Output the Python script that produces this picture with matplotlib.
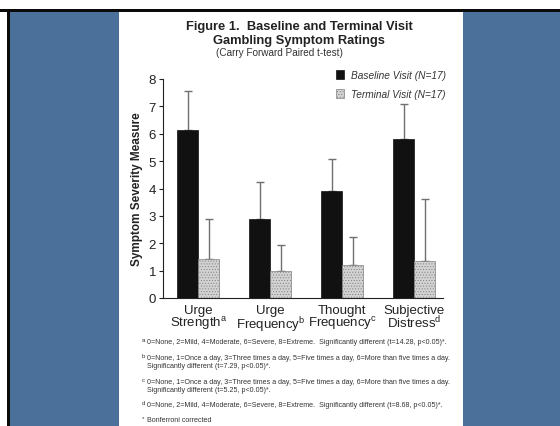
import matplotlib
matplotlib.use('Agg')
import matplotlib.pyplot as plt
import matplotlib.patches as mpatches
import numpy as np

# symptom ratings, mean and upper error of each visit
categories = ['Urge\nStrength$^{\\mathrm{a}}$', 'Urge\nFrequency$^{\\mathrm{b}}$',
              'Thought\nFrequency$^{\\mathrm{c}}$', 'Subjective\nDistress$^{\\mathrm{d}}$']
baseline = [6.15, 2.88, 3.90, 5.82]
baseline_err = [1.40, 1.34, 1.17, 1.28]
terminal = [1.42, 0.98, 1.22, 1.35]
terminal_err = [1.46, 0.94, 1.00, 2.27]
series_labels = ['Baseline Visit (N=17)', 'Terminal Visit (N=17)']
yticks = [0, 1, 2, 3, 4, 5, 6, 7, 8]

footnotes = [
    ('a', ['0=None, 2=Mild, 4=Moderate, 6=Severe, 8=Extreme.  Significantly different (t=14.28, p<0.05)*.']),
    ('b', ['0=None, 1=Once a day, 3=Three times a day, 5=Five times a day, 6=More than five times a day.',
           'Significantly different (t=7.29, p<0.05)*.']),
    ('c', ['0=None, 1=Once a day, 3=Three times a day, 5=Five times a day, 6=More than five times a day.',
           'Significantly different (t=5.25, p<0.05)*.']),
    ('d', ['0=None, 2=Mild, 4=Moderate, 6=Severe, 8=Extreme.  Significantly different (t=8.68, p<0.05)*.']),
    ('*', ['Bonferroni corrected']),
]
footnote_rows = [343, 359, 383, 406, 421]

plt.rcParams['font.family'] = ['Liberation Sans', 'DejaVu Sans']
plt.rcParams['mathtext.fontset'] = 'custom'
plt.rcParams['mathtext.rm'] = 'Liberation Sans'
plt.rcParams['hatch.linewidth'] = 0.4

W, H = 560, 427


def fx(x):
    return x / W


def fy(y):
    return 1 - y / H


fig = plt.figure(figsize=(W / 100, H / 100), dpi=100)
fig.patch.set_facecolor('#4b719b')

# slide frame: white margin, black rule, white page
def px_rect(x0, y0, x1, y1, color):
    fig.patches.append(mpatches.Rectangle((fx(x0), fy(y1)), (x1 - x0) / W, (y1 - y0) / H,
                                          transform=fig.transFigure, facecolor=color,
                                          edgecolor='none', zorder=-5))

px_rect(0, 0, W, 10, 'white')
px_rect(0, 0, 7, H, 'white')
px_rect(0, 10, W, 13, '#0a0a0a')
px_rect(7, 10, 10, H, '#0a0a0a')
px_rect(119, 13, 463, H, 'white')

# titles
fig.text(fx(299), fy(27), 'Figure 1.  Baseline and Terminal Visit', ha='center', va='center',
         fontsize=9.3, fontweight='bold', color='#222222')
fig.text(fx(299), fy(41), 'Gambling Symptom Ratings', ha='center', va='center',
         fontsize=9.3, fontweight='bold', color='#222222')
fig.text(fx(279), fy(53), '(Carry Forward Paired t-test)', ha='center', va='center',
         fontsize=7.2, color='#333333')

ax = fig.add_axes([fx(163), fy(299), (443 - 163) / W, (299 - 80) / H], zorder=2)
ax.set_facecolor('none')

x = np.arange(len(categories))
width = 0.29
b1 = ax.bar(x - width / 2, baseline, width, color='#111111', edgecolor='#111111',
            linewidth=0.5, label=series_labels[0], zorder=2)
b2 = ax.bar(x + width / 2, terminal, width, color='#d2d2d2', edgecolor='#808080',
            hatch='......', linewidth=0.5, label=series_labels[1], zorder=2)

# one-sided error bars going up from the bar tops
ax.errorbar(x - width / 2, baseline, yerr=[np.zeros(len(baseline)), baseline_err],
            fmt='none', ecolor='#707070', elinewidth=1.0, capsize=3, capthick=1.0, zorder=1)
ax.errorbar(x + width / 2, terminal, yerr=[np.zeros(len(terminal)), terminal_err],
            fmt='none', ecolor='#707070', elinewidth=1.0, capsize=3, capthick=1.0, zorder=1)

ax.set_xlim(-0.49, 3.40)
ax.set_ylim(0, 8)
ax.set_yticks(yticks)
ax.tick_params(axis='y', length=3, width=0.8, labelsize=9.5, pad=2, colors='#222222')
ax.set_xticks(x)
ax.set_xticklabels(categories, fontsize=9.5, linespacing=0.9, color='#222222')
ax.tick_params(axis='x', length=0, pad=4)
for s in ['top', 'right']:
    ax.spines[s].set_visible(False)
for s in ['left', 'bottom']:
    ax.spines[s].set_linewidth(0.8)
    ax.spines[s].set_color('#222222')

ax.set_ylabel('Symptom Severity Measure', fontsize=8.5, fontweight='bold', color='#222222',
              labelpad=4)

ax.legend(handles=[b1, b2], loc='upper left', bbox_to_anchor=(fx(331), fy(66)),
          bbox_transform=fig.transFigure, frameon=False,
          prop={'size': 7.3, 'style': 'italic'}, handlelength=0.8, handleheight=1.0,
          handletextpad=0.7, labelspacing=0.85, borderpad=0, labelcolor='#333333')

# footnotes under the chart
for (mark, lines), row in zip(footnotes, footnote_rows):
    fig.text(fx(142), fy(row - 2), mark, fontsize=4.4, ha='left', va='center', color='#333333')
    for i, line in enumerate(lines):
        fig.text(fx(147), fy(row + i * 8), line, fontsize=5.1, ha='left', va='center',
                 color='#333333')

fig.savefig('out.png', dpi=100)
